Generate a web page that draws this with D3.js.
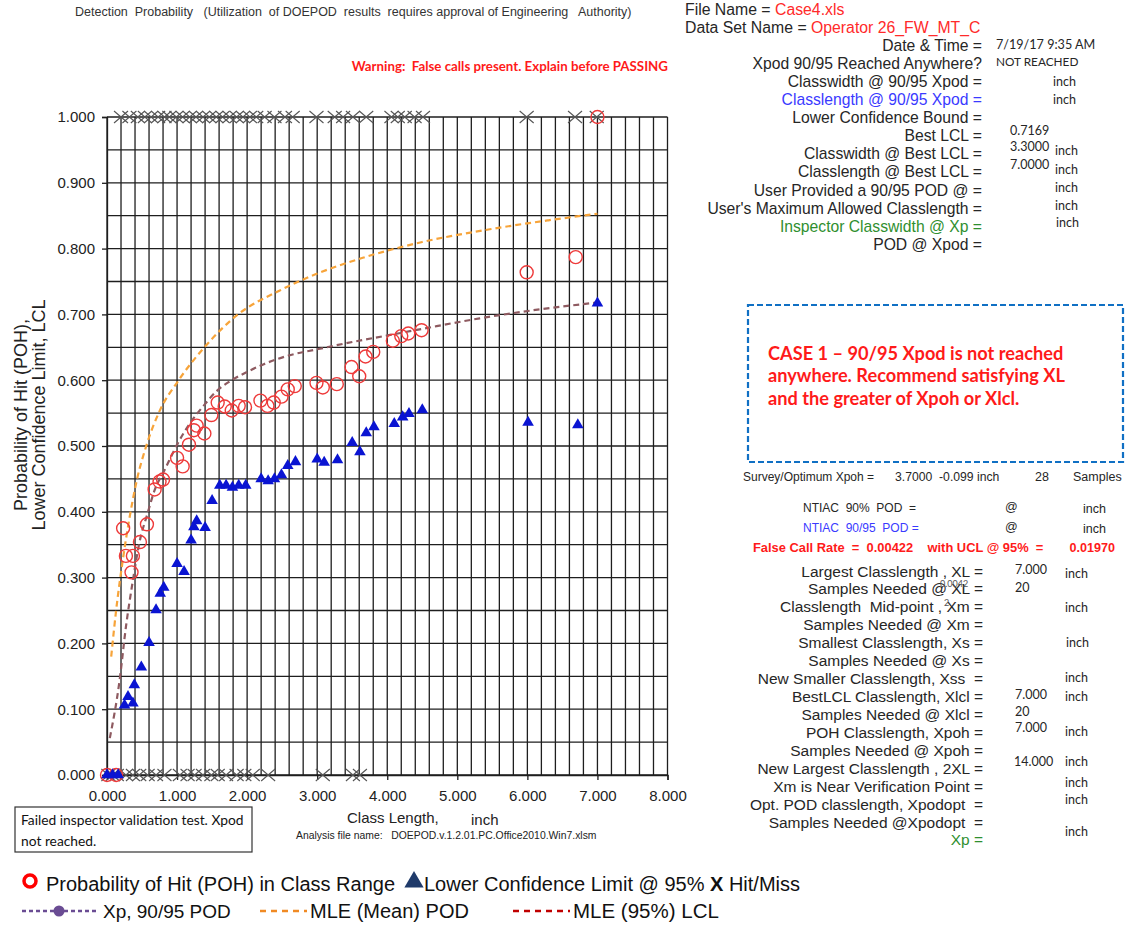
<!DOCTYPE html>
<html>
<head>
<meta charset="utf-8">
<script src="https://cdn.jsdelivr.net/npm/d3@7"></script>
<style>
  body { margin: 0; background: #fff; }
  svg { display: block; }
  text { font-family: "Liberation Sans", Arial, sans-serif; white-space: pre; }
  .cal { font-family: Lato, "Liberation Sans", sans-serif; }
</style>
</head>
<body>
<svg id="chart" width="1127" height="930"></svg>
<script>
// ---- axis ticks ----
const xTickVals = [0, 1, 2, 3, 4, 5, 6, 7, 8];
const yTickVals = [0, 0.1, 0.2, 0.3, 0.4, 0.5, 0.6, 0.7, 0.8, 0.9, 1.0];

// ---- Probability of Hit (POH) in class range ----
const pohX = [0.00, 0.13, 0.23, 0.27, 0.35, 0.37, 0.47, 0.57, 0.68, 0.75, 0.80, 1.00, 1.08, 1.17, 1.24, 1.28,
  1.39, 1.49, 1.58, 1.68, 1.78, 1.88, 1.97, 2.19, 2.29, 2.38, 2.49, 2.58, 2.68, 2.99, 3.08, 3.28,
  3.49, 3.60, 3.69, 3.80, 4.08, 4.20, 4.30, 4.49, 5.99, 6.69, 7.00];
const pohY = [0.000, 0.000, 0.375, 0.333, 0.308, 0.333, 0.354, 0.381, 0.434, 0.446, 0.449, 0.482, 0.469, 0.502, 0.524, 0.531,
  0.519, 0.547, 0.566, 0.560, 0.554, 0.561, 0.559, 0.569, 0.561, 0.566, 0.575, 0.586, 0.591, 0.596, 0.589, 0.594,
  0.620, 0.606, 0.636, 0.643, 0.660, 0.667, 0.671, 0.676, 0.764, 0.787, 1.000];

// ---- Lower Confidence Limit @ 95% ----
const lclX = [0.00, 0.08, 0.16, 0.25, 0.30, 0.37, 0.39, 0.49, 0.60, 0.70, 0.76, 0.81, 1.00, 1.10, 1.20, 1.24, 1.28,
  1.40, 1.50, 1.61, 1.70, 1.79, 1.88, 1.98, 2.20, 2.30, 2.39, 2.49, 2.58, 2.69, 3.00, 3.10, 3.29,
  3.50, 3.61, 3.70, 3.81, 4.10, 4.22, 4.31, 4.50, 6.01, 6.72, 7.00];
const lclY = [0.000, 0.000, 0.000, 0.106, 0.119, 0.109, 0.137, 0.164, 0.201, 0.251, 0.276, 0.285, 0.321, 0.309, 0.357, 0.377, 0.386,
  0.376, 0.417, 0.440, 0.440, 0.437, 0.440, 0.440, 0.450, 0.447, 0.450, 0.456, 0.470, 0.476, 0.480, 0.475, 0.479,
  0.505, 0.491, 0.520, 0.529, 0.534, 0.544, 0.549, 0.555, 0.536, 0.532, 0.7169];

// ---- Hit / Miss inspection results (class length, inch) ----
const hitX = [0.20, 0.32, 0.44, 0.54, 0.63, 0.73, 0.82, 0.89, 0.99, 1.08, 1.18, 1.27, 1.37, 1.46, 1.56, 1.65,
  1.75, 1.85, 1.94, 2.04, 2.13, 2.25, 2.39, 2.54, 2.65, 2.99, 3.25, 3.37, 3.51, 3.70, 4.06, 4.15, 4.25,
  4.39, 4.51, 5.99, 6.68, 6.99];
const missX = [0.02, 0.08, 0.14, 0.27, 0.37, 0.46, 0.58, 0.70, 0.82, 1.04, 1.15, 1.25, 1.37, 1.49, 1.58, 1.70,
  1.85, 1.96, 2.08, 2.30, 3.08, 3.51, 3.61];

// ---- MLE (Mean) POD curve ----
const mleMeanX = [0.06, 0.13, 0.23, 0.32, 0.43, 0.56, 0.75, 1.01, 1.39, 1.87, 2.46, 3.00, 3.65, 4.50, 5.50, 6.30, 7.00];
const mleMeanY = [0.180, 0.250, 0.330, 0.390, 0.450, 0.500, 0.553, 0.598, 0.650, 0.700, 0.736, 0.762, 0.786, 0.810, 0.830, 0.843, 0.853];

// ---- MLE (95%) LCL curve ----
const mleLclX = [0.04, 0.18, 0.27, 0.37, 0.46, 0.58, 0.68, 0.82, 1.01, 1.18, 1.37, 1.56, 1.75, 1.99, 2.23, 2.61, 3.00, 3.50, 4.00, 4.50, 5.32, 6.20, 7.00];
const mleLclY = [0.056, 0.144, 0.225, 0.296, 0.352, 0.398, 0.433, 0.463, 0.504, 0.534, 0.560, 0.583, 0.598, 0.612, 0.624, 0.638, 0.647, 0.658, 0.668, 0.678, 0.694, 0.708, 0.718];

const svg = d3.select("#chart");
svg.append("rect").attr("width", 1127).attr("height", 930).attr("fill", "#fff");

const x = d3.scaleLinear().domain([0, 8]).range([107, 667.5]);
const y = d3.scaleLinear().domain([0, 1]).range([775, 117]);

// ---- grid ----
const grid = svg.append("g").attr("stroke", "#1e1e1e").attr("stroke-width", 1.3);
grid.selectAll("line.v").data(d3.range(0, 41)).join("line")
  .attr("x1", i => x(i * 0.2)).attr("x2", i => x(i * 0.2))
  .attr("y1", y(1)).attr("y2", y(0));
grid.selectAll("line.h").data(d3.range(0, 21)).join("line")
  .attr("x1", x(0)).attr("x2", x(8))
  .attr("y1", i => y(i * 0.05)).attr("y2", i => y(i * 0.05));

// ---- axes ----
const fmt = d3.format(".3f");
const yAxis = svg.append("g").attr("transform", `translate(${x(0)},0)`)
  .call(d3.axisLeft(y).tickValues(yTickVals).tickFormat(fmt).tickSize(5).tickPadding(7));
const xAxis = svg.append("g").attr("transform", `translate(0,${y(0)})`)
  .call(d3.axisBottom(x).tickValues(xTickVals).tickFormat(fmt).tickSize(5).tickPadding(10));
[yAxis, xAxis].forEach(g => {
  g.select(".domain").attr("stroke", "#1e1e1e").attr("stroke-width", 1.3);
  g.selectAll(".tick line").attr("stroke", "#1e1e1e").attr("stroke-width", 1.3);
  g.selectAll(".tick text").attr("font-size", 15).attr("fill", "#222")
    .attr("font-family", "Liberation Sans, Arial, sans-serif");
});

// ---- MLE curves ----
const line = d3.line().x(d => x(d[0])).y(d => y(d[1])).curve(d3.curveMonotoneX);
svg.append("path").datum(mleMeanX.map((v, i) => [v, mleMeanY[i]]))
  .attr("d", line).attr("fill", "none").attr("stroke", "#f7a43a")
  .attr("stroke-width", 2.2).attr("stroke-dasharray", "6,4");
svg.append("path").datum(mleLclX.map((v, i) => [v, mleLclY[i]]))
  .attr("d", line).attr("fill", "none").attr("stroke", "#8e5a60")
  .attr("stroke-width", 2.2).attr("stroke-dasharray", "6,4");

// ---- hit/miss crosses ----
const crossPath = (cx, cy) => `M${cx - 7},${cy - 6}L${cx + 7},${cy + 6}M${cx - 7},${cy + 6}L${cx + 7},${cy - 6}`;
const crosses = svg.append("g").attr("stroke", "#555").attr("stroke-width", 1.1).attr("fill", "none");
crosses.selectAll("path.hit").data(hitX).join("path").attr("d", d => crossPath(x(d), y(1)));
crosses.selectAll("path.miss").data(missX).join("path").attr("d", d => crossPath(x(d), y(0)));

// ---- POH circles ----
svg.append("g").selectAll("circle").data(pohX.map((v, i) => [v, pohY[i]])).join("circle")
  .attr("cx", d => x(d[0])).attr("cy", d => y(d[1])).attr("r", 6.5)
  .attr("fill", "none").attr("stroke", "#ee3a3a").attr("stroke-width", 1.4);

// ---- LCL triangles ----
const tri = d3.symbol(d3.symbolTriangle, 58);
svg.append("g").selectAll("path").data(lclX.map((v, i) => [v, lclY[i]])).join("path")
  .attr("d", tri).attr("transform", d => `translate(${x(d[0])},${y(d[1])})`)
  .attr("fill", "#0a14d2");

// ---- axis titles ----
const yt = svg.append("text").attr("transform", "translate(26.5,415) rotate(-90)")
  .attr("text-anchor", "middle").attr("font-size", 18).attr("fill", "#222");
yt.append("tspan").attr("x", 0).attr("dy", 0).text("Probability of Hit (POH),");
yt.append("tspan").attr("x", 0).attr("dy", 18).text("Lower Confidence Limit, LCL");

svg.append("text").attr("x", 347).attr("y", 823).attr("font-size", 15).attr("fill", "#222").text("Class Length,");
svg.append("text").attr("x", 471).attr("y", 825).attr("font-size", 15).attr("fill", "#222").text("inch");
svg.append("text").attr("x", 296).attr("y", 839).attr("font-size", 10.4).attr("fill", "#222")
  .text("Analysis file name:   DOEPOD.v.1.2.01.PC.Office2010.Win7.xlsm");

// ---- header ----
svg.append("text").attr("x", 75).attr("y", 16).attr("font-size", 12.5).attr("fill", "#333")
  .text("Detection  Probability   (Utilization  of DOEPOD  results  requires approval of Engineering   Authority)");
svg.append("text").attr("class", "cal").attr("x", 668).attr("y", 71).attr("text-anchor", "end")
  .attr("font-size", 13.3).attr("font-weight", "bold").attr("fill", "#ff1a1a")
  .text("Warning:  False calls present. Explain before PASSING");

// ---- inspection summary panel ----
const fn = svg.append("text").attr("x", 685).attr("y", 15).attr("font-size", 15.8).attr("fill", "#262626");
fn.append("tspan").text("File Name = ");
fn.append("tspan").attr("fill", "#ff2a2a").text("Case4.xls");
const ds = svg.append("text").attr("x", 685).attr("y", 33).attr("font-size", 15.8).attr("fill", "#262626");
ds.append("tspan").text("Data Set Name = ");
ds.append("tspan").attr("fill", "#ff2a2a").text("Operator 26_FW_MT_C");

const topLabels = ["Date & Time =", "Xpod 90/95 Reached Anywhere?", "Classwidth @ 90/95 Xpod =",
  "Classlength @ 90/95 Xpod =", "Lower Confidence Bound =", "Best LCL =", "Classwidth @ Best LCL =",
  "Classlength @ Best LCL =", "User Provided a 90/95 POD @ =", "User's Maximum Allowed Classlength =",
  "Inspector Classwidth @ Xp =", "POD @ Xpod ="];
const topColors = {3: "#3a3aff", 10: "#2f8f2f"};
svg.append("g").selectAll("text").data(topLabels).join("text")
  .attr("x", 982).attr("y", (d, i) => 50.7 + i * 18.1).attr("text-anchor", "end")
  .attr("font-size", 15.7).attr("fill", (d, i) => topColors[i] || "#262626").text(d => d);

const val = (tx, ty, s, opts = {}) => svg.append("text").attr("class", opts.arial ? null : "cal")
  .attr("x", tx).attr("y", ty).attr("font-size", opts.size || 12)
  .attr("fill", opts.fill || "#262626").attr("font-weight", opts.weight || "normal")
  .attr("text-anchor", opts.anchor || "start").text(s);

val(996, 49, "7/19/17 9:35 AM", {size: 12.6});
val(996, 66, "NOT REACHED", {size: 11.8});
val(1053, 86, "inch", {size: 12.5});
val(1053, 104, "inch", {size: 12.5});
val(1010, 135, "0.7169", {size: 12.5});
val(1010, 151, "3.3000", {size: 12.5}); val(1055, 155, "inch", {size: 12.5});
val(1010, 169, "7.0000", {size: 12.5}); val(1055, 174, "inch", {size: 12.5});
val(1055, 192, "inch", {size: 12.5});
val(1055, 210, "inch", {size: 12.5});
val(1056, 227, "inch", {size: 12.5});

// ---- recommendation box ----
svg.append("rect").attr("x", 748).attr("y", 305).attr("width", 375).attr("height", 157)
  .attr("fill", "none").attr("stroke", "#1070c4").attr("stroke-width", 2.2).attr("stroke-dasharray", "6,3");
["CASE 1 \u2013 90/95 Xpod is not reached", "anywhere. Recommend satisfying XL", "and the greater of Xpoh or Xlcl."]
  .forEach((s, i) => svg.append("text").attr("class", "cal").attr("x", 768).attr("y", 359.5 + i * 22.5)
    .attr("font-size", 18.2).attr("font-weight", "bold").attr("fill", "#ff1a1a").text(s));

val(743, 481, "Survey/Optimum Xpoh =", {size: 12, arial: true});
val(895, 481, "3.7000  -0.099 inch", {size: 12.2, arial: true});
val(1035, 481, "28", {size: 12.5, arial: true});
val(1073, 481, "Samples", {size: 12.5, arial: true});

val(803, 512, "NTIAC  90%  POD  =", {size: 12, arial: true});
val(1005, 511, "@", {size: 12.5, arial: true});
val(1083, 513, "inch", {size: 12.5, arial: true});
val(803, 532, "NTIAC  90/95  POD =", {size: 12, fill: "#3a3aff", arial: true});
val(1005, 531, "@", {size: 12.5, arial: true});
val(1083, 533, "inch", {size: 12.5, arial: true});
val(753, 551.5, "False Call Rate  =  0.00422    with UCL @ 95%  =", {size: 12.9, weight: "bold", fill: "#ff1a1a", arial: true});
val(1115, 551.5, "0.01970", {size: 12.6, weight: "bold", fill: "#ff1a1a", anchor: "end", arial: true});

const lowLabels = ["Largest Classlength , XL =", "Samples Needed @ XL =", "Classlength  Mid-point , Xm =",
  "Samples Needed @ Xm =", "Smallest Classlength, Xs =", "Samples Needed @ Xs =",
  "New Smaller Classlength, Xss  =", "BestLCL Classlength, Xlcl =", "Samples Needed @ Xlcl =",
  "POH Classlength, Xpoh =", "Samples Needed @ Xpoh =", "New Largest Classlength , 2XL =",
  "Xm is Near Verification Point =", "Opt. POD classlength, Xpodopt  =", "Samples Needed @Xpodopt  =", "Xp ="];
svg.append("g").selectAll("text").data(lowLabels).join("text")
  .attr("x", 983).attr("y", (d, i) => 576.5 + i * 17.93).attr("text-anchor", "end")
  .attr("font-size", 15.5).attr("fill", (d, i) => i === 15 ? "#2f8f2f" : "#262626").text(d => d);

val(940, 587, "0.0042", {size: 9, fill: "#555"});
val(944, 606, "2", {size: 9, fill: "#555"});
val(1015, 574, "7.000", {size: 12.5}); val(1065, 578, "inch", {size: 12.5});
val(1015, 592, "20", {size: 12.5});
val(1065, 612, "inch", {size: 12.5});
val(1066, 647, "inch", {size: 12.5});
val(1065, 682, "inch", {size: 12.5});
val(1015, 699, "7.000", {size: 12.5}); val(1065, 701, "inch", {size: 12.5});
val(1015, 716, "20", {size: 12.5});
val(1015, 732, "7.000", {size: 12.5}); val(1065, 736, "inch", {size: 12.5});
val(1014, 766, "14.000", {size: 12.5}); val(1065, 766, "inch", {size: 12.5});
val(1065, 787, "inch", {size: 12.5});
val(1065, 804, "inch", {size: 12.5});
val(1065, 836, "inch", {size: 12.5});

// ---- status box ----
svg.append("rect").attr("x", 15).attr("y", 807).attr("width", 237).attr("height", 45)
  .attr("fill", "#fff").attr("stroke", "#333").attr("stroke-width", 1.2);
val(21, 825, "Failed inspector validation test. Xpod", {size: 13.8, fill: "#111"});
val(21, 846, "not reached.", {size: 13.8, fill: "#111"});

// ---- legend ----
const lg = svg.append("g");
lg.append("circle").attr("cx", 30).attr("cy", 881).attr("r", 6).attr("fill", "none")
  .attr("stroke", "#ff0000").attr("stroke-width", 3.5);
lg.append("text").attr("x", 46).attr("y", 891).attr("font-size", 20).attr("fill", "#111")
  .text("Probability of Hit (POH) in Class Range");
lg.append("path").attr("d", d3.symbol(d3.symbolTriangle, 160)).attr("transform", "translate(414,882)")
  .attr("fill", "#1f3a6a");
const l2 = lg.append("text").attr("x", 424).attr("y", 891).attr("font-size", 20).attr("fill", "#111");
l2.append("tspan").text("Lower Confidence Limit @ 95% ");
l2.append("tspan").attr("font-weight", "bold").text("X");
l2.append("tspan").text(" Hit/Miss");

lg.append("line").attr("x1", 22).attr("x2", 97).attr("y1", 911).attr("y2", 911)
  .attr("stroke", "#6a4c93").attr("stroke-width", 2.5).attr("stroke-dasharray", "4,3");
lg.append("circle").attr("cx", 59).attr("cy", 911).attr("r", 5.5).attr("fill", "#6a4c93");
lg.append("text").attr("x", 103).attr("y", 918).attr("font-size", 19).attr("fill", "#111").text("Xp, 90/95 POD");
lg.append("line").attr("x1", 260).attr("x2", 307).attr("y1", 911).attr("y2", 911)
  .attr("stroke", "#f08a24").attr("stroke-width", 2.5).attr("stroke-dasharray", "6,5");
lg.append("text").attr("x", 310).attr("y", 918).attr("font-size", 20).attr("fill", "#111").text("MLE (Mean) POD");
lg.append("line").attr("x1", 513).attr("x2", 570).attr("y1", 911).attr("y2", 911)
  .attr("stroke", "#c00000").attr("stroke-width", 2.5).attr("stroke-dasharray", "6,5");
lg.append("text").attr("x", 573).attr("y", 918).attr("font-size", 20.5).attr("fill", "#111").text("MLE (95%) LCL");
</script>
</body>
</html>
